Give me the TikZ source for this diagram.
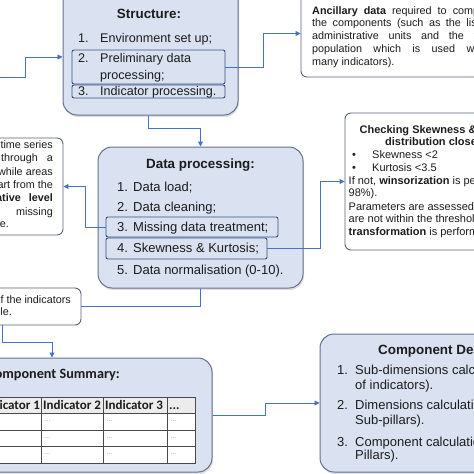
\documentclass[tikz,border=0pt]{standalone}
\usepackage{fontspec}
\setmainfont{Liberation Sans}
\newfontfamily\calibri{Carlito}
\usetikzlibrary{calc,arrows.meta,shadows}
\definecolor{boxfill}{RGB}{218,226,241}
\definecolor{boxline}{RGB}{100,114,142}
\definecolor{itemline}{RGB}{52,80,128}
\definecolor{conn}{RGB}{68,114,196}
\definecolor{noteline}{RGB}{86,98,122}
\definecolor{ink}{RGB}{28,28,28}
\definecolor{hdrfill}{RGB}{236,236,236}
\definecolor{dots}{RGB}{120,120,120}
\begin{document}
\begin{tikzpicture}[x=1pt,y=-1pt,
  bluebox/.style={draw=boxline, line width=1pt, fill=boxfill, rounded corners=14pt, inner sep=0pt,
     drop shadow={opacity=0.25, shadow xshift=1pt, shadow yshift=-2pt}},
  notebox/.style={draw=noteline, line width=0.9pt, fill=white, rounded corners=6pt, inner sep=0pt},
  itembox/.style={draw=itemline, line width=0.9pt, rounded corners=2pt, inner sep=0pt},
  conn/.style={draw=conn, line width=0.9pt},
  arr/.style={conn, -{Triangle[length=5pt,width=5pt]}},
  t/.style={inner sep=0pt, anchor=base west, text=ink},
  tc/.style={inner sep=0pt, anchor=base, text=ink},
  te/.style={inner sep=0pt, anchor=base east, text=ink},
  big/.style={font=\fontsize{12.6}{15}\selectfont},
  dpf/.style={font=\fontsize{13}{15}\selectfont},
  ttl/.style={font=\fontsize{13.4}{15}\selectfont\bfseries},
  small/.style={font=\fontsize{10.8}{13}\selectfont},
  chkf/.style={font=\fontsize{11}{13}\selectfont},
  chkb/.style={font=\fontsize{11}{13}\selectfont\bfseries},
  msf/.style={font=\fontsize{10.8}{13}\selectfont},
  hdr/.style={inner sep=0pt, anchor=base west, text=ink, font=\calibri\fontsize{13}{15}\selectfont\bfseries},
  dotf/.style={inner sep=0pt, anchor=west, text=dots, font=\fontsize{6}{7}\selectfont},
]
\useasboundingbox (0,0) rectangle (474,474);
\clip (0,0) rectangle (474,474);

% ---------- boxes ----------
\node[bluebox, minimum width=175pt, minimum height=135pt] (struct) at (150.5,47.5) {};
\node[itembox, minimum width=153pt, minimum height=34pt] (s2) at (148.5,67) {};
\node[itembox, minimum width=153pt, minimum height=13pt] (s3) at (148.5,91.5) {};

\node[notebox, minimum width=189pt, minimum height=87pt] (anc) at (395.5,33.5) {};

\node[bluebox, minimum width=205pt, minimum height=141pt] (dp) at (200.5,217.5) {};
\node[itembox, minimum width=172pt, minimum height=20pt] (d3) at (192,227) {};
\node[itembox, minimum width=161pt, minimum height=21pt] (d4) at (186.5,248.5) {};

\node[notebox, minimum width=150pt, minimum height=137pt] (chk) at (420,181.5) {};
\node[notebox, minimum width=93pt, minimum height=97pt] (miss) at (16.5,186.5) {};
\node[notebox, minimum width=111pt, minimum height=37pt] (note) at (25.5,306.5) {};

\node[bluebox, minimum width=242pt, minimum height=114pt] (cs) at (91,415) {};
\node[bluebox, minimum width=180pt, minimum height=138pt] (cd) at (410,403) {};

% ---------- Structure text ----------
\node[tc, ttl] (st0) at (149,18) {Structure:};
\node[t, big] (st1n) at (78,42.5) {1.};
\node[t, big] (st1) at (100,42.5) {Environment set up;};
\node[t, big] (st2n) at (78,62.5) {2.};
\node[t, big] (st2) at (100,62.5) {Preliminary data};
\node[t, big] (st2b) at (100,79.5) {processing;};
\node[t, big] (st3n) at (78,95.5) {3.};
\node[t, big] (st3) at (100,95.5) {Indicator processing.};

% ---------- Ancillary text ----------
\node[t, small] (an1) at (312,14) {\makebox[182pt][s]{\textbf{Ancillary data} required to compute}};
\node[t, small] (an2) at (312,26.9) {\makebox[182pt][s]{the components (such as the list of}};
\node[t, small] (an3) at (312,39.8) {\makebox[182pt][s]{administrative units and the total}};
\node[t, small] (an4) at (312,52.7) {\makebox[182pt][s]{population which is used within}};
\node[t, small] (an5) at (312,65.6) {many indicators).};

% ---------- Data processing text ----------
\node[tc, ttl] (dp0) at (200.5,168) {Data processing:};
\node[t, dpf] (dp1n) at (117,191.5) {1.};
\node[t, dpf] (dp1) at (133,191.5) {Data load;};
\node[t, dpf] (dp2n) at (117,211.5) {2.};
\node[t, dpf] (dp2) at (133,211.5) {Data cleaning;};
\node[t, dpf] (dp3n) at (117,231.5) {3.};
\node[t, dpf] (dp3) at (133,231.5) {Missing data treatment;};
\node[t, dpf] (dp4n) at (117,252.5) {4.};
\node[t, dpf] (dp4) at (133,252.5) {Skewness \& Kurtosis;};
\node[t, dpf] (dp5n) at (117,274.5) {5.};
\node[t, dpf] (dp5) at (133,274.5) {Data normalisation (0-10).};

% ---------- Checking text ----------
\node[t, chkb] (ck1) at (359.5,133.5) {Checking Skewness \& Kurtosis};
\node[t, chkb] (ck2) at (385,145.8) {distribution close to normal};
\node[t, chkf] (ck3b) at (352,158.5) {•};
\node[t, chkf] (ck3) at (372,158.5) {Skewness <2};
\node[t, chkf] (ck4b) at (352,171.8) {•};
\node[t, chkf] (ck4) at (372,171.8) {Kurtosis <3.5};
\node[t, chkf] (ck5) at (348.5,184.2) {If not, \textbf{winsorization} is performed (2-};
\node[t, chkf] (ck6) at (348.5,196.8) {98\%).};
\node[t, chkf] (ck7) at (348.5,210.8) {Parameters are assessed again, if they};
\node[t, chkf] (ck8) at (348.5,222.8) {are not within the thresholds, a log};
\node[t, chkf] (ck9) at (348.5,235.2) {\textbf{transformation} is performed.};

% ---------- Missing data note ----------
\node[te, msf] (ms1) at (53,148.5) {with gaps in their time series};
\node[te, msf] (ms2) at (53,161.8) {are filled through\hspace{9pt}a};
\node[te, msf] (ms3) at (53,175.2) {interpolation, while areas};
\node[te, msf] (ms4) at (53,188.5) {no data apart from the};
\node[te, msf] (ms5) at (53,201.8) {\textbf{administrative\hspace{8pt}level}};
\node[te, msf] (ms6) at (53,215.2) {value for the\hspace{30pt}missing};
\node[te, msf] (ms7) at (9,227.8) {value.};

% ---------- bottom-left note ----------
\node[te, small] (nt1) at (71,303.5) {Final table of the indicators};
\node[te, small] (nt2) at (12,315.5) {table.};

% ---------- Component summary ----------
\node[te, font=\calibri\fontsize{14.2}{16}\selectfont\bfseries, text=ink, inner sep=0pt] (cs0) at (120,378) {Component Summary:};
\fill[hdrfill] (-21,397) rectangle (195,413);
\fill[white] (-21,413) rectangle (195,463);
\draw[line width=0.8pt, draw=ink!80]
  (-21,397) rectangle (195,463)
  (-21,413) -- (195,413) (-21,430) -- (195,430) (-21,446) -- (195,446)
  (41,397) -- (41,463) (103,397) -- (103,463) (167,397) -- (167,463);
\node[hdr] (h1) at (-18,409.5) {Indicator 1};
\node[hdr] (h2) at (43,409.5) {Indicator 2};
\node[hdr] (h3) at (105,409.5) {Indicator 3};
\node[hdr] (h4) at (169,409.5) {...};
\foreach \r in {421.5,438,454.5}{
  \foreach \c in {-17,45,107,171}{
    \node[dotf] at (\c,\r) {...};
  }
}

% ---------- Component description ----------
\node[t, ttl] (cd0) at (378,354) {Component Description:};
\node[t, dpf] (cd1n) at (337,374.5) {1.};
\node[t, dpf] (cd1) at (355,374.5) {Sub-dimensions calculation (aggregation};
\node[t, dpf] (cd1b) at (355,389.5) {of indicators).};
\node[t, dpf] (cd2n) at (337,409.5) {2.};
\node[t, dpf] (cd2) at (355,409.5) {Dimensions calculation (aggregation of};
\node[t, dpf] (cd2b) at (355,424.5) {Sub-pillars).};
\node[t, dpf] (cd3n) at (337,446.5) {3.};
\node[t, dpf] (cd3) at (355,446.5) {Component calculation (aggregation of};
\node[t, dpf] (cd3b) at (355,459.5) {Pillars).};

% ---------- connectors ----------
\coordinate (in1) at (0,77);
\draw[arr] (in1) -- (25,77) |- (struct.west |- 0,57);
\draw[arr] (s2.east) -- (263,67) |- (anc.west);
\draw[arr] ($(struct.south)+(-2.5,0)$) -- (148,128) -| (dp.north);
\draw[arr] (d3.west) -- (85,227) |- (miss.east);
\draw[arr] (d4.east) -- (320,248.5) |- (chk.west);
\draw[conn] (dp.south) |- (note.east);
\draw[arr] (note.south -| 2,0) -- (2,342) -| (cs.north -| 52,0);
\draw[arr] (cs.east) -- (265,415) |- (cd.west);
\end{tikzpicture}
\end{document}
